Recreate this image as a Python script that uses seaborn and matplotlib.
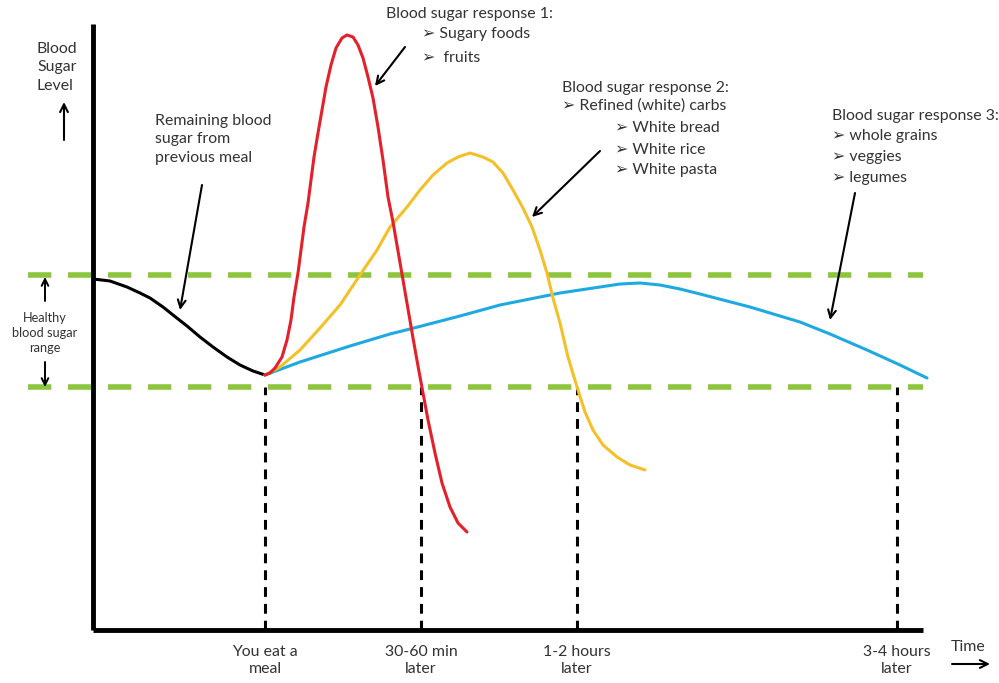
import matplotlib
matplotlib.use("Agg")
import matplotlib.pyplot as plt
import seaborn as sns
import pandas as pd

# Schematic blood sugar curves, time / level in arbitrary units
prev_time = [0, 17, 34, 47, 57, 70, 80, 94, 107, 120, 134, 147, 160, 172]
prev_level = [351, 349, 343, 337, 332, 323, 315, 304, 293, 283, 273, 265, 259, 255]

resp1_time = [172, 177, 182, 189, 194, 198, 201, 205, 208, 211, 215, 218, 221, 225, 229, 233,
              238, 243, 249, 254, 260, 265, 270, 275, 280, 285, 290, 295, 300, 305, 310, 315,
              320, 325, 330, 335, 342, 349, 357, 365, 374]
resp1_level = [255, 257, 262, 273, 290, 310, 333, 357, 380, 403, 427, 450, 473, 497, 520, 543,
               565, 582, 592, 595, 593, 585, 572, 553, 532, 503, 470, 433, 408, 379, 350, 321,
               292, 264, 237, 210, 177, 147, 123, 107, 98]

resp2_time = [172, 187, 207, 227, 247, 267, 284, 297, 314, 327, 340, 354, 365,
              377, 390, 400, 410, 420, 430, 439, 447, 454, 460, 467, 475, 484, 492, 500, 510,
              524, 537, 552]
resp2_level = [255, 263, 280, 302, 325, 355, 380, 403, 423, 440, 455, 467, 473,
               477, 473, 468, 457, 440, 422, 403, 380, 357, 332, 307, 273, 243, 218, 200, 185,
               173, 165, 160]

resp3_time = [172, 207, 257, 297, 317, 367, 407, 467, 507, 527, 547, 567, 587, 607, 657, 707,
              737, 774, 807, 834]
resp3_level = [255, 268, 284, 296, 301, 314, 325, 337, 343, 346, 347, 345, 341, 336, 323, 308,
               296, 280, 265, 252]

healthy_range = [243, 355]
marker_times = [172, 328, 484, 804]
marker_labels = ["You eat a\nmeal", "30-60 min\nlater", "1-2 hours\nlater", "3-4 hours\nlater"]

sns.set_theme(style="white")
plt.rcParams["font.family"] = ["Lato", "DejaVu Sans"]
txt = "#333333"
fs = 11.4

fig = plt.figure(figsize=(9.99, 6.83), dpi=100)
ax = fig.add_axes([0, 0, 1, 1])
ax.axis("off")

# healthy range (green dashed)
ax.hlines(healthy_range, -65, 830, colors="#8cc63f", linewidth=4, linestyles=(0, (4.2, 3.0)), zorder=1)

# time markers
ax.vlines(marker_times, 0, healthy_range[0], colors="black", linewidth=2.2,
          linestyles=(0, (3.2, 2.3)), zorder=1)

curves = [
    (prev_time, prev_level, "black"),
    (resp3_time, resp3_level, "#1ea9e1"),
    (resp2_time, resp2_level, "#f4c02a"),
    (resp1_time, resp1_level, "#e4202a"),
]
for t, lv, c in curves:
    df = pd.DataFrame({"time": t, "level": lv})
    sns.lineplot(data=df, x="time", y="level", sort=False, color=c, linewidth=2.2, ax=ax, zorder=3)
ax.set_xlabel("")
ax.set_ylabel("")
ax.set_xlim(-93, 906)
ax.set_ylim(-53, 630)

# axes
ax.plot([0, 0], [0, 606], color="black", linewidth=3.5, solid_capstyle="butt", zorder=4)
ax.plot([0, 830], [0, 0], color="black", linewidth=3.5, solid_capstyle="butt", zorder=4)

arrow = dict(arrowstyle="->", color="black", lw=1.5, mutation_scale=14, shrinkA=0, shrinkB=0)

# axis texts
ax.text(-56, 588, "Blood\nSugar\nLevel", fontsize=fs, color=txt, ha="left", va="top", linespacing=1.4)
ax.annotate("", xy=(-29, 528), xytext=(-29, 490), arrowprops=arrow)
ax.text(875, -17, "Time", fontsize=fs, color=txt, ha="center", va="center")
ax.annotate("", xy=(897, -34), xytext=(859, -34), arrowprops=arrow)
for t, lab in zip(marker_times, marker_labels):
    ax.text(t, -15, lab, fontsize=fs, color=txt, ha="center", va="top", linespacing=1.3)

# healthy range label
ax.text(-48, 297, "Healthy\nblood sugar\nrange", fontsize=9.2, color=txt, ha="center", va="center",
        linespacing=1.3)
small = dict(arrow, lw=1.4, mutation_scale=12)
ax.annotate("", xy=(-48, 353), xytext=(-48, 329), arrowprops=small)
ax.annotate("", xy=(-48, 243), xytext=(-48, 268), arrowprops=small)

# annotations
ax.text(62, 516, "Remaining blood\nsugar from\nprevious meal", fontsize=fs, color=txt,
        ha="left", va="top", linespacing=1.4)
ax.annotate("", xy=(87, 320), xytext=(109, 445), arrowprops=arrow)

ax.text(293, 616, "Blood sugar response 1:", fontsize=fs, color=txt, ha="left", va="center")
ax.text(329, 596, "➢ Sugary foods", fontsize=fs, color=txt, ha="left", va="center")
ax.text(329, 572, "➢  fruits", fontsize=fs, color=txt, ha="left", va="center")
ax.annotate("", xy=(282, 544), xytext=(312, 583), arrowprops=arrow)

ax.text(469, 542, "Blood sugar response 2:", fontsize=fs, color=txt, ha="left", va="center")
ax.text(469, 524, "➢ Refined (white) carbs", fontsize=fs, color=txt, ha="left", va="center")
ax.text(522, 502, "➢ White bread", fontsize=fs, color=txt, ha="left", va="center")
ax.text(522, 480, "➢ White rice", fontsize=fs, color=txt, ha="left", va="center")
ax.text(522, 460, "➢ White pasta", fontsize=fs, color=txt, ha="left", va="center")
ax.annotate("", xy=(439, 413), xytext=(507, 479), arrowprops=arrow)

ax.text(739, 514, "Blood sugar response 3:", fontsize=fs, color=txt, ha="left", va="center")
ax.text(739, 494, "➢ whole grains", fontsize=fs, color=txt, ha="left", va="center")
ax.text(739, 473, "➢ veggies", fontsize=fs, color=txt, ha="left", va="center")
ax.text(739, 452, "➢ legumes", fontsize=fs, color=txt, ha="left", va="center")
ax.annotate("", xy=(737, 310), xytext=(762, 437), arrowprops=arrow)

fig.savefig("out.png", dpi=100)
